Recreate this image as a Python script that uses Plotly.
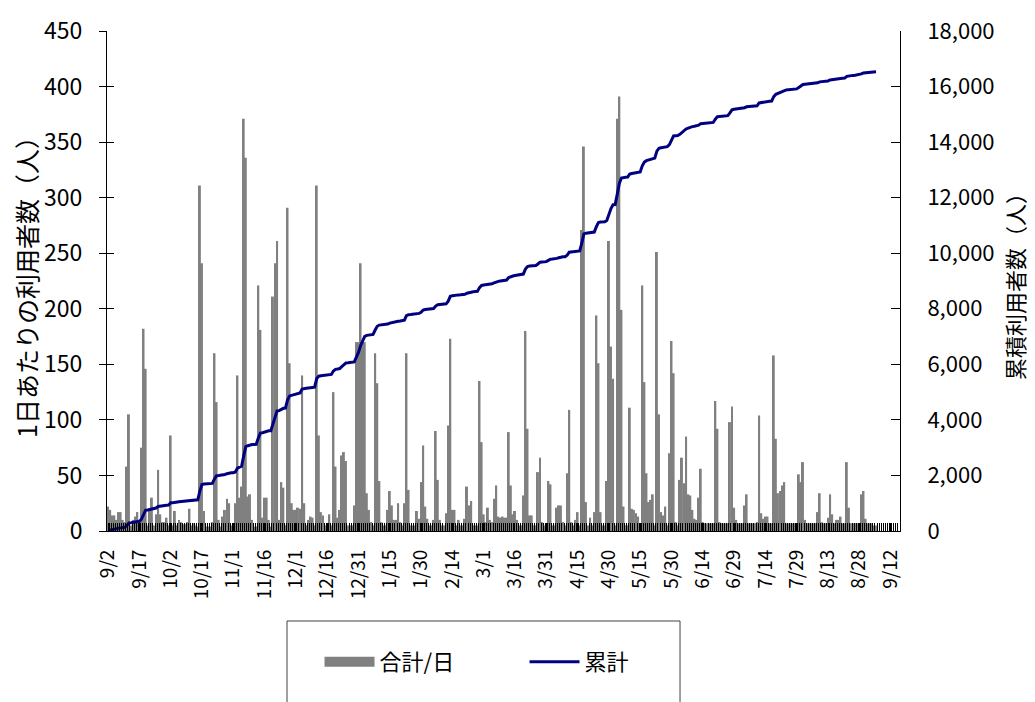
import plotly.graph_objects as go
from itertools import accumulate

# Daily users (人/日), 2010-09-02 .. 2011-09-05
sep_2010 = [22, 19, 14, 14, 10, 17, 17, 10, 8, 58, 105, 5, 10, 13, 17, 10, 75, 182, 146, 5,
            20, 30, 5, 15, 55, 15, 8, 8, 12]
oct_2010 = [5, 86, 5, 18, 5, 10, 8, 6, 6, 8, 20, 5, 7, 5, 4, 311, 241, 18, 4, 4, 4, 8, 160, 116,
            10, 4, 13, 19, 29, 25, 5]
nov_2010 = [4, 25, 140, 30, 40, 371, 336, 31, 33, 10, 4, 4, 221, 181, 12, 30, 30, 10, 4, 211,
            241, 261, 10, 44, 39, 5, 291, 151, 25, 19]
dec_2010 = [19, 21, 20, 140, 25, 5, 10, 13, 12, 5, 311, 86, 17, 14, 5, 5, 15, 5, 125, 58, 12, 19,
            68, 71, 63, 5, 5, 5, 23, 170, 170]
jan_2011 = [241, 169, 170, 34, 19, 8, 5, 160, 133, 45, 8, 5, 5, 19, 36, 23, 10, 10, 25, 8, 5, 25,
            160, 37, 5, 5, 5, 18, 11, 44, 77]
feb_2011 = [22, 11, 5, 5, 10, 90, 46, 10, 5, 5, 16, 95, 173, 19, 19, 5, 10, 5, 5, 11, 40, 23, 27,
            5, 5, 5, 135, 80]
mar_2011 = [15, 8, 21, 10, 8, 29, 41, 13, 12, 13, 12, 12, 89, 41, 15, 18, 10, 5, 5, 32, 180, 92,
            14, 14, 5, 5, 53, 66, 8, 5, 5]
apr_2011 = [45, 42, 5, 5, 21, 23, 23, 8, 5, 52, 109, 8, 5, 10, 17, 5, 271, 346, 26, 5, 12, 5, 17,
            194, 151, 17, 5, 5, 45, 261]
may_2011 = [166, 137, 5, 371, 391, 199, 22, 5, 5, 111, 20, 19, 16, 13, 5, 221, 134, 52, 26, 28,
            33, 5, 251, 105, 17, 14, 22, 5, 70, 171, 142]
jun_2011 = [8, 5, 46, 66, 43, 85, 33, 32, 19, 11, 10, 30, 56, 8, 7, 7, 7, 7, 7, 117, 92, 8, 7, 7,
            7, 7, 98, 112, 21, 10]
jul_2011 = [7, 7, 7, 23, 33, 7, 7, 7, 7, 8, 104, 16, 11, 13, 13, 7, 7, 158, 83, 34, 36, 41, 44, 7,
            7, 7, 7, 7, 7, 51, 44]
aug_2011 = [62, 10, 7, 7, 7, 7, 7, 17, 34, 8, 7, 7, 12, 33, 15, 7, 10, 10, 13, 7, 7, 62, 21, 7, 7,
            7, 7, 7, 33, 36, 11]
sep_2011 = [7, 7, 7, 5, 5]

daily = (sep_2010 + oct_2010 + nov_2010 + dec_2010 + jan_2011 + feb_2011 + mar_2011 +
         apr_2011 + may_2011 + jun_2011 + jul_2011 + aug_2011 + sep_2011)
cumulative = list(accumulate(daily))
day_index = list(range(len(daily)))

n_slots = 380  # axis categories 9/2 .. 9/16
tick_labels = ["9/2", "9/17", "10/2", "10/17", "11/1", "11/16", "12/1", "12/16", "12/31",
               "1/15", "1/30", "2/14", "3/1", "3/16", "3/31", "4/15", "4/30", "5/15", "5/30",
               "6/14", "6/29", "7/14", "7/29", "8/13", "8/28", "9/12"]
tick_positions = [15 * i for i in range(len(tick_labels))]

left_ticks = list(range(0, 451, 50))
right_ticks = list(range(0, 18001, 2000))

FONT = "Noto Sans CJK JP"
BAR_COLOR = "#808080"
LINE_COLOR = "#000080"

fig = go.Figure()
fig.add_trace(go.Bar(x=day_index, y=daily, name="合計/日", showlegend=False,
                     marker=dict(color=BAR_COLOR, line=dict(width=0)), yaxis="y"))
# legend swatch for the bars (wide gray block like the original legend)
fig.add_trace(go.Scatter(x=[None], y=[None], name="合計/日", mode="lines",
                         line=dict(color=BAR_COLOR, width=13), yaxis="y", hoverinfo="skip"))
fig.add_trace(go.Scatter(x=day_index, y=cumulative, name="累計", mode="lines",
                         line=dict(color=LINE_COLOR, width=3), yaxis="y2"))
fig.add_trace(go.Scatter(x=[], y=[], yaxis="y3", showlegend=False, hoverinfo="skip"))

fig.update_layout(
    width=1027, height=694,
    margin=dict(l=99, r=135, t=23, b=171, autoexpand=False),
    plot_bgcolor="white", paper_bgcolor="white",
    bargap=0.05,
    font=dict(family=FONT, color="black"),
    xaxis=dict(range=[-0.5, n_slots - 0.5], tickmode="array", tickvals=tick_positions,
               ticktext=tick_labels, tickangle=-90, ticks="inside", ticklen=8,
               tickcolor="black", showline=True, linecolor="black", linewidth=1,
               showgrid=False, zeroline=False, tickfont=dict(size=19, family=FONT),
               ticklabelstandoff=10,
               minor=dict(tickmode="linear", tick0=-0.5, dtick=1, ticks="inside",
                          ticklen=8, tickcolor="black", tickwidth=1, showgrid=False)),
    yaxis=dict(range=[0, 450], tickmode="array", tickvals=left_ticks, ticks="outside",
               ticklen=7, tickcolor="black", showline=True, linecolor="black",
               showgrid=False, zeroline=False, tickfont=dict(size=23, family=FONT),
               ticklabelstandoff=12,
               title=dict(text="1日あたりの利用者数（人）", font=dict(size=25, family=FONT))),
    yaxis2=dict(range=[0, 18000], tickmode="array", tickvals=right_ticks,
                ticktext=[f"{v:,}" for v in right_ticks], overlaying="y", side="right",
                anchor="x", ticks="inside", ticklen=9, tickcolor="black", showline=True,
                linecolor="black", showgrid=False, zeroline=False,
                tickfont=dict(size=22, family=FONT), ticklabelstandoff=22,
                title=dict(text="累積利用者数（人）", font=dict(size=22, family=FONT))),
    yaxis3=dict(range=[0, 450], tickmode="array", tickvals=left_ticks, overlaying="y",
                side="left", anchor="x", ticks="inside", ticklen=7, tickcolor="black",
                showticklabels=False, showline=False, showgrid=False, zeroline=False),
    legend=dict(orientation="h", x=0.268, y=-0.262, xanchor="left", yanchor="middle",
                font=dict(size=22, family=FONT), bgcolor="rgba(0,0,0,0)",
                entrywidth=140, entrywidthmode="pixels", itemwidth=50),
    shapes=[dict(type="rect", xref="paper", yref="paper", x0=0.227, x1=0.7226,
                 y0=-0.36, y1=-0.18, line=dict(color="#404040", width=1),
                 fillcolor="rgba(0,0,0,0)", layer="below")],
)

fig.write_html("out.html")
